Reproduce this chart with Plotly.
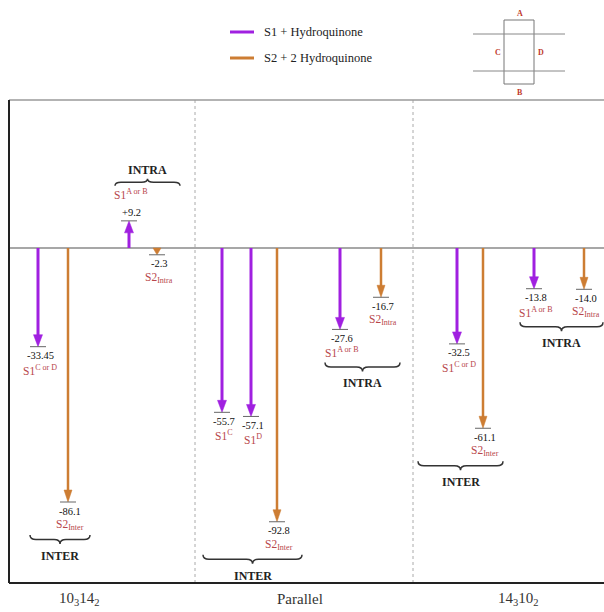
import plotly.graph_objects as go

# ---------------- data ----------------
group_labels = ["10<sub>3</sub>14<sub>2</sub>", "Parallel", "14<sub>3</sub>10<sub>2</sub>"]
series_names = ["S1 + Hydroquinone", "S2 + 2 Hydroquinone"]
energies = [-33.45, -86.1, 9.2, -2.3, -55.7, -57.1, -92.8, -27.6, -16.7, -32.5, -61.1, -13.8, -14.0]
energy_series = [0, 1, 0, 1, 0, 0, 1, 0, 1, 0, 1, 0, 1]
energy_labels = ["-33.45", "-86.1", "+9.2", "-2.3", "-55.7", "-57.1", "-92.8",
                 "-27.6", "-16.7", "-32.5", "-61.1", "-13.8", "-14.0"]
species_labels = ["S1<sup>C or D</sup>", "S2<sub>Inter</sub>", "S1<sup>A or B</sup>", "S2<sub>Intra</sub>",
                  "S1<sup>C</sup>", "S1<sup>D</sup>", "S2<sub>Inter</sub>",
                  "S1<sup>A or B</sup>", "S2<sub>Intra</sub>",
                  "S1<sup>C or D</sup>", "S2<sub>Inter</sub>", "S1<sup>A or B</sup>", "S2<sub>Intra</sub>"]
brace_labels = ["INTER", "INTRA", "INTER", "INTRA", "INTER", "INTRA"]
brace_members = [[0, 1], [2, 3], [4, 5, 6], [7, 8], [9, 10], [11, 12]]
schematic_labels = ["A", "B", "C", "D"]

# ---------------- layout / style ----------------
W, H = 604, 612
L, R, T, B = 9, 0, 100, 29
ZERO_PX = 248
PX = 2.95  # pixels per energy unit
y_top = (ZERO_PX - T) / PX
y_bot = -((H - B) - ZERO_PX) / PX

arrow_x = [38, 68, 129, 157, 222, 251, 277, 340, 381, 457, 483, 534, 584]
brace_x = [(30, 90), (115, 180), (203, 302), (325, 400), (418, 503), (520, 603)]
group_x = [79, 300, 518]
separators_x = [195, 413]

colors = ["#a020e0", "#cd7d33"]
widths = [3, 2.5]
head_w = [9, 8]
head_h = 12
label_red = "#b8464b"
serif = "Liberation Serif"


def fx(p):
    return (p - L) / (W - L - R)


def fy(p):
    return ((H - B) - p) / (H - T - B)


def ey(px_offset):
    return px_offset / PX


fig = go.Figure()
shapes = []
annotations = []


def text(x, y, t, size, color, xref="x", yref="y", xanchor="center", yshift=0):
    annotations.append(dict(x=x, y=y, xref=xref, yref=yref, text=t, showarrow=False,
                            xanchor=xanchor, yanchor="middle", yshift=yshift,
                            font=dict(family=serif, size=size, color=color)))


# frame
shapes.append(dict(type="line", xref="paper", yref="paper", x0=0, x1=1, y0=1, y1=1,
                   line=dict(color="#9a9a9a", width=1.5)))
shapes.append(dict(type="line", xref="paper", yref="paper", x0=0, x1=0, y0=0, y1=1,
                   line=dict(color="#222", width=2)))
shapes.append(dict(type="line", xref="paper", yref="paper", x0=0, x1=1, y0=0, y1=0,
                   line=dict(color="#222", width=2)))
for sx in separators_x:
    shapes.append(dict(type="line", xref="x", yref="paper", x0=sx, x1=sx, y0=0, y1=1,
                       line=dict(color="#aaaaaa", width=1, dash="dot"), layer="below"))
shapes.append(dict(type="line", xref="paper", yref="y", x0=0, x1=1, y0=0, y1=0,
                   line=dict(color="#8a8a8a", width=1.5), layer="below"))

# arrow shafts (one trace per series)
for s in range(2):
    xs, ys = [], []
    for i, e in enumerate(energies):
        if energy_series[i] != s:
            continue
        sgn = 1 if e > 0 else -1
        hh = min(head_h, abs(e) * PX)
        xs += [arrow_x[i], arrow_x[i], None]
        ys += [0, e - sgn * ey(hh) * 0.9, None]
    fig.add_trace(go.Scatter(x=xs, y=ys, mode="lines", name=series_names[s],
                             line=dict(color=colors[s], width=widths[s]),
                             hoverinfo="skip", showlegend=False))

# heads, level ticks, labels
for i, e in enumerate(energies):
    s = energy_series[i]
    x = arrow_x[i]
    up = e > 0
    sgn = 1 if up else -1
    hh = min(head_h, abs(e) * PX)
    yb = e - sgn * ey(hh)
    hw = head_w[s] / 2
    shapes.append(dict(type="path", xref="x", yref="y",
                       path=f"M {x - hw},{yb} L {x + hw},{yb} L {x},{e} Z",
                       fillcolor=colors[s], line=dict(color=colors[s], width=0.5)))
    shapes.append(dict(type="line", xref="x", yref="y", x0=x - 8, x1=x + 8, y0=e, y1=e,
                       line=dict(color="#666", width=1)))
    text(x + 2, e, energy_labels[i], 10.5, "#111", yshift=(8 if up else -9))
    text(x + 2, e, species_labels[i], 11.5, label_red, yshift=(27 if up else -23))

# braces
for k, members in enumerate(brace_members):
    xa, xb = brace_x[k]
    xm = (xa + xb) / 2
    q = 6
    vals = [energies[m] for m in members]
    if max(vals) > 0:
        base = max(vals) + ey(35)
        d = ey(7)
        sgn = 1
        lab_y = base + d + ey(9)
    else:
        base = min(vals) - ey(33)
        d = ey(9)
        sgn = -1
        lab_y = base - d - ey(12)
    y0 = base
    yh = base + sgn * d / 2
    yt = base + sgn * d
    path = (f"M {xa},{y0} Q {xa},{yh} {xa + q},{yh} L {xm - q},{yh} "
            f"Q {xm},{yh} {xm},{yt} Q {xm},{yh} {xm + q},{yh} "
            f"L {xb - q},{yh} Q {xb},{yh} {xb},{y0}")
    shapes.append(dict(type="path", xref="x", yref="y", path=path,
                       line=dict(color="#333", width=1.5)))
    text(xm, lab_y, f"<b>{brace_labels[k]}</b>", 12, "#222")

# group labels
for g, gl in enumerate(group_labels):
    text(group_x[g], fy(599), gl, 15, "#333", yref="paper")

# legend (manual)
leg_y = [32, 58]
for s, name in enumerate(series_names):
    shapes.append(dict(type="line", xref="paper", yref="paper", x0=fx(230), x1=fx(254),
                       y0=fy(leg_y[s]), y1=fy(leg_y[s]), line=dict(color=colors[s], width=3)))
    text(fx(262), fy(leg_y[s]), name, 12.5, "#222", xref="paper", yref="paper", xanchor="left")

# schematic
shapes.append(dict(type="rect", xref="paper", yref="paper", x0=fx(504), x1=fx(534),
                   y0=fy(84), y1=fy(20), line=dict(color="#777", width=1)))
for yy in [34, 71]:
    shapes.append(dict(type="line", xref="paper", yref="paper", x0=fx(473), x1=fx(565),
                       y0=fy(yy), y1=fy(yy), line=dict(color="#888", width=1)))
sch_pos = [(520, 13), (520, 93), (498, 52), (541, 52)]
for lab, (px_, py_) in zip(schematic_labels, sch_pos):
    text(fx(px_), fy(py_), f"<b>{lab}</b>", 8, "#c0392b", xref="paper", yref="paper")

fig.update_layout(
    width=W, height=H,
    margin=dict(l=L, r=R, t=T, b=B),
    paper_bgcolor="white", plot_bgcolor="white",
    showlegend=False,
    xaxis=dict(range=[L, W - R], visible=False, fixedrange=True),
    yaxis=dict(range=[y_bot, y_top], visible=False, fixedrange=True),
    shapes=shapes, annotations=annotations,
)

fig.write_html("out.html", config={"displayModeBar": False})

# remove the browser's default page margin so the figure sits at the window origin
with open("out.html", "r", encoding="utf-8") as f:
    html = f.read()
html = html.replace("<body>", '<body style="margin:0;padding:0;overflow:hidden">', 1)
with open("out.html", "w", encoding="utf-8") as f:
    f.write(html)
